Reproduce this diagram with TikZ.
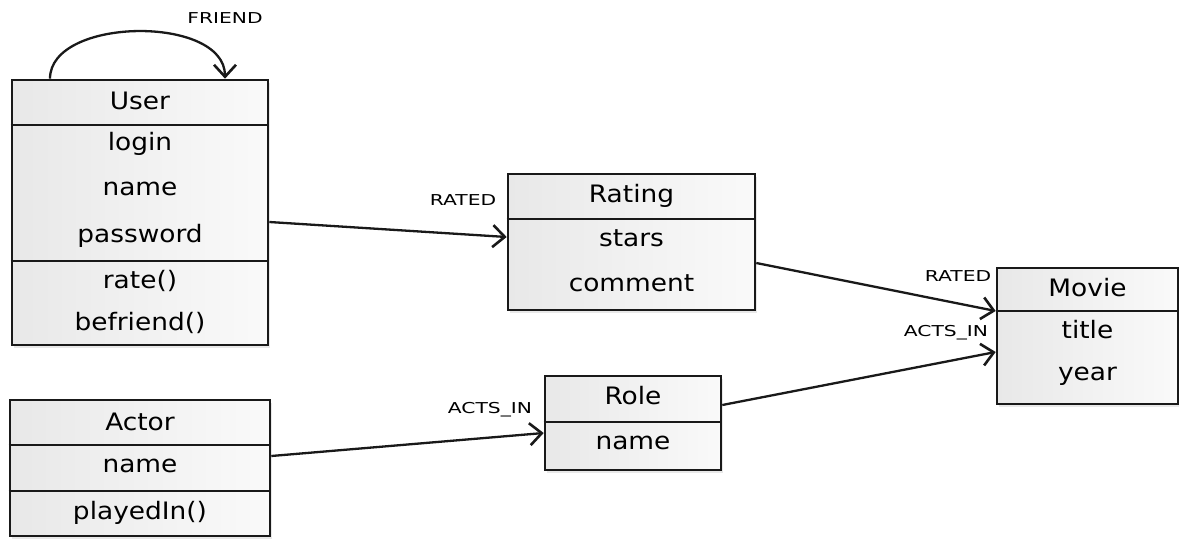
\documentclass[tikz,border=0pt]{standalone}
\usepackage{fontspec}
\setmainfont{DejaVu Sans}
\usetikzlibrary{arrows.meta,shadows,calc}
\tikzset{
  box/.style={draw=black!90, line width=2.6pt, rectangle, inner sep=0pt,
    left color=gray!18, right color=gray!4,
    drop shadow={shadow xshift=2pt, shadow yshift=-3pt, opacity=0.18}},
  txt/.style={font=\fontsize{24}{28}\selectfont, inner sep=0pt, xscale=1.1},
  lbl/.style={font=\fontsize{15}{17}\selectfont, inner sep=0pt, xscale=1.35},
  sep/.style={line width=2.6pt, draw=black!90},
  rel/.style={line width=2.3pt, draw=black!90, -{Straight Barb[length=12pt,width=22pt,line width=2.6pt]}}
}
\begin{document}
\begin{tikzpicture}[x=1pt,y=-1pt]
\useasboundingbox (0,0) rectangle (1179,539);
% boxes
\node[box, minimum width=256pt, minimum height=265pt] (user) at (140,212.5) {};
\node[box, minimum width=247pt, minimum height=136pt] (rating) at (631.5,242) {};
\node[box, minimum width=181pt, minimum height=136pt] (movie) at (1087.5,336) {};
\node[box, minimum width=260pt, minimum height=136pt] (actor) at (140,468) {};
\node[box, minimum width=176pt, minimum height=94pt] (role) at (633,423) {};
% separators
\draw[sep] (user.west |- 0,125) -- (user.east |- 0,125);
\draw[sep] (user.west |- 0,261) -- (user.east |- 0,261);
\draw[sep] (rating.west |- 0,219) -- (rating.east |- 0,219);
\draw[sep] (movie.west |- 0,311) -- (movie.east |- 0,311);
\draw[sep] (actor.west |- 0,445) -- (actor.east |- 0,445);
\draw[sep] (actor.west |- 0,491) -- (actor.east |- 0,491);
\draw[sep] (role.west |- 0,422) -- (role.east |- 0,422);
% texts
\node[txt] (userT) at (140,101) {User};
\node[txt] (userA1) at (140,144) {login};
\node[txt] (userA2) at (140,189) {name};
\node[txt] (userA3) at (140,236) {password};
\node[txt] (userM1) at (140,281) {rate()};
\node[txt] (userM2) at (140,323) {befriend()};
\node[txt] (ratingT) at (631.5,196) {Rating};
\node[txt] (ratingA1) at (631.5,238) {stars};
\node[txt] (ratingA2) at (631.5,283) {comment};
\node[txt] (movieT) at (1087.5,288) {Movie};
\node[txt] (movieA1) at (1087.5,330) {title};
\node[txt] (movieA2) at (1087.5,376) {year};
\node[txt] (actorT) at (140,422) {Actor};
\node[txt] (actorA1) at (140,466) {name};
\node[txt] (actorM1) at (140,513) {playedIn()};
\node[txt] (roleT) at (633,396) {Role};
\node[txt] (roleA1) at (633,443) {name};
% connectors
\draw[rel] ([xshift=-90pt]user.north) .. controls ([xshift=-90pt,yshift=62pt]user.north) and ([xshift=85pt,yshift=64pt]user.north) .. ([xshift=85pt]user.north);
\draw[rel] ([yshift=-9.5pt]user.east) -- ([yshift=5pt]rating.west);
\draw[rel] ([yshift=-21pt]rating.east) -- ([yshift=25pt]movie.west);
\draw[rel] ([yshift=18pt]role.east) -- ([yshift=-16pt]movie.west);
\draw[rel] ([yshift=12pt]actor.east) -- ([yshift=-10pt]role.west);
% labels
\node[lbl] (lFriend) at (225,18) {FRIEND};
\node[lbl] (lRated1) at (463,200) {RATED};
\node[lbl] (lRated2) at (958,276) {RATED};
\node[lbl] (lActs1) at (946,333) {ACTS\_IN};
\node[lbl] (lActs2) at (490,410) {ACTS\_IN};
\end{tikzpicture}
\end{document}
